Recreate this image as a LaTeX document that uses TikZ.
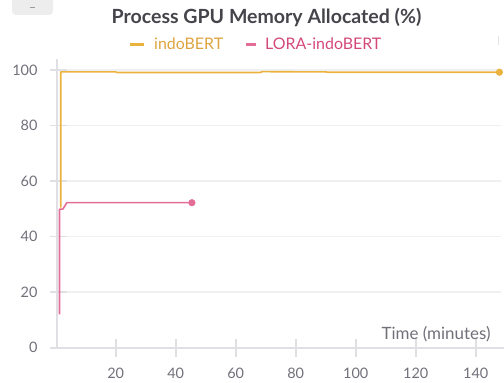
\documentclass[tikz,border=0pt]{standalone}
\usepackage{fontspec}
\setmainfont{Lato}
\usepackage{tikz}

\definecolor{indoorange}{RGB}{236,178,62}
\definecolor{indotext}{RGB}{222,163,62}
\definecolor{lorapink}{RGB}{226,110,152}
\definecolor{loratext}{RGB}{212,72,122}
\definecolor{ticktext}{RGB}{112,112,122}
\definecolor{titletext}{RGB}{68,68,74}
\definecolor{gridgray}{RGB}{240,240,242}
\definecolor{axisgray}{RGB}{224,224,228}

\tikzset{
  ticklabel/.style={text=ticktext, font=\fontsize{14.5}{16}\selectfont, inner sep=0pt},
  legendlabel/.style={anchor=west, font=\fontsize{16}{19}\selectfont, inner sep=0pt},
  gridline/.style={draw=gridgray, line width=1.2bp},
  axisline/.style={draw=axisgray, line width=1.6bp},
  curve/.style={line width=1.6bp, line join=round},
}

\begin{document}
\begin{tikzpicture}[x=1bp, y=1bp]
    \useasboundingbox (0,0) rectangle (504,382);

    % ui leftovers
    \fill[black!7, rounded corners=4bp] (12,396) rectangle (53,367);
    \draw[black!40, line width=1bp] (30,374) -- (35,374);
    \draw[black!10, line width=1bp] (498,346) -- (498,337);

    % title and legend
    \node[text=titletext, font=\bfseries\fontsize{19.6}{22}\selectfont, inner sep=0pt] (title) at (266.5,365) {Process GPU Memory Allocated (\%)};
    \coordinate (leg1a) at (130,338);
    \coordinate (leg1b) at (144,338);
    \draw[indoorange, line width=3bp] (leg1a) -- (leg1b);
    \node[legendlabel, text=indotext] (leg1) at (154,338) {indoBERT};
    \coordinate (leg2a) at (246,338);
    \coordinate (leg2b) at (256,338);
    \draw[lorapink, line width=3bp] (leg2a) -- (leg2b);
    \node[legendlabel, text=loratext] (leg2) at (265,338) {LORA-indoBERT};

    % axes, grid and data
    \begin{scope}[shift={(55.7,34.4)}, x=3bp, y=2.776bp]
        \foreach \y in {20,40,60,80,100} {
            \draw[gridline] (-1.9,\y) -- (148.3,\y);
            \draw[axisline, line width=1.2bp] (-1.9,\y) -- (3.8,\y);
        }
        \draw[axisline] (0.5,0) -- (0.5,104);
        \draw[axisline, line width=2bp] (-1.9,0) -- (149.4,0);
        \foreach \x in {20,40,...,140} {
            \draw[axisline] (\x,3) -- (\x,-3.4);
            \node[ticklabel] (xl\x) at (\x,-9.2) {\x};
        }
        \foreach \y in {0,20,...,100}
            \node[ticklabel, anchor=east] (yl\y) at (-6,\y) {\y};
        \node[ticklabel, anchor=east, font=\fontsize{17}{19}\selectfont] (xtitle) at (145,5) {Time (minutes)};

        % indoBERT
        \draw[curve, indoorange] (1.67,50.4) -- (1.67,99.3) -- (20,99.3) -- (20.5,99.1) -- (68,99.1)
            -- (69,99.4) -- (90,99.3) -- (91,99.2) -- (147.9,99.2);
        \fill[indoorange] (147.9,99.2) circle (3.6bp);

        % LORA-indoBERT
        \draw[curve, lorapink] (1.27,12) -- (1.27,49.9) -- (2.4,49.9) -- (3.7,52.2) -- (45.4,52.2);
        \fill[lorapink] (45.4,52.2) circle (3.6bp);
    \end{scope}
\end{tikzpicture}
\end{document}
